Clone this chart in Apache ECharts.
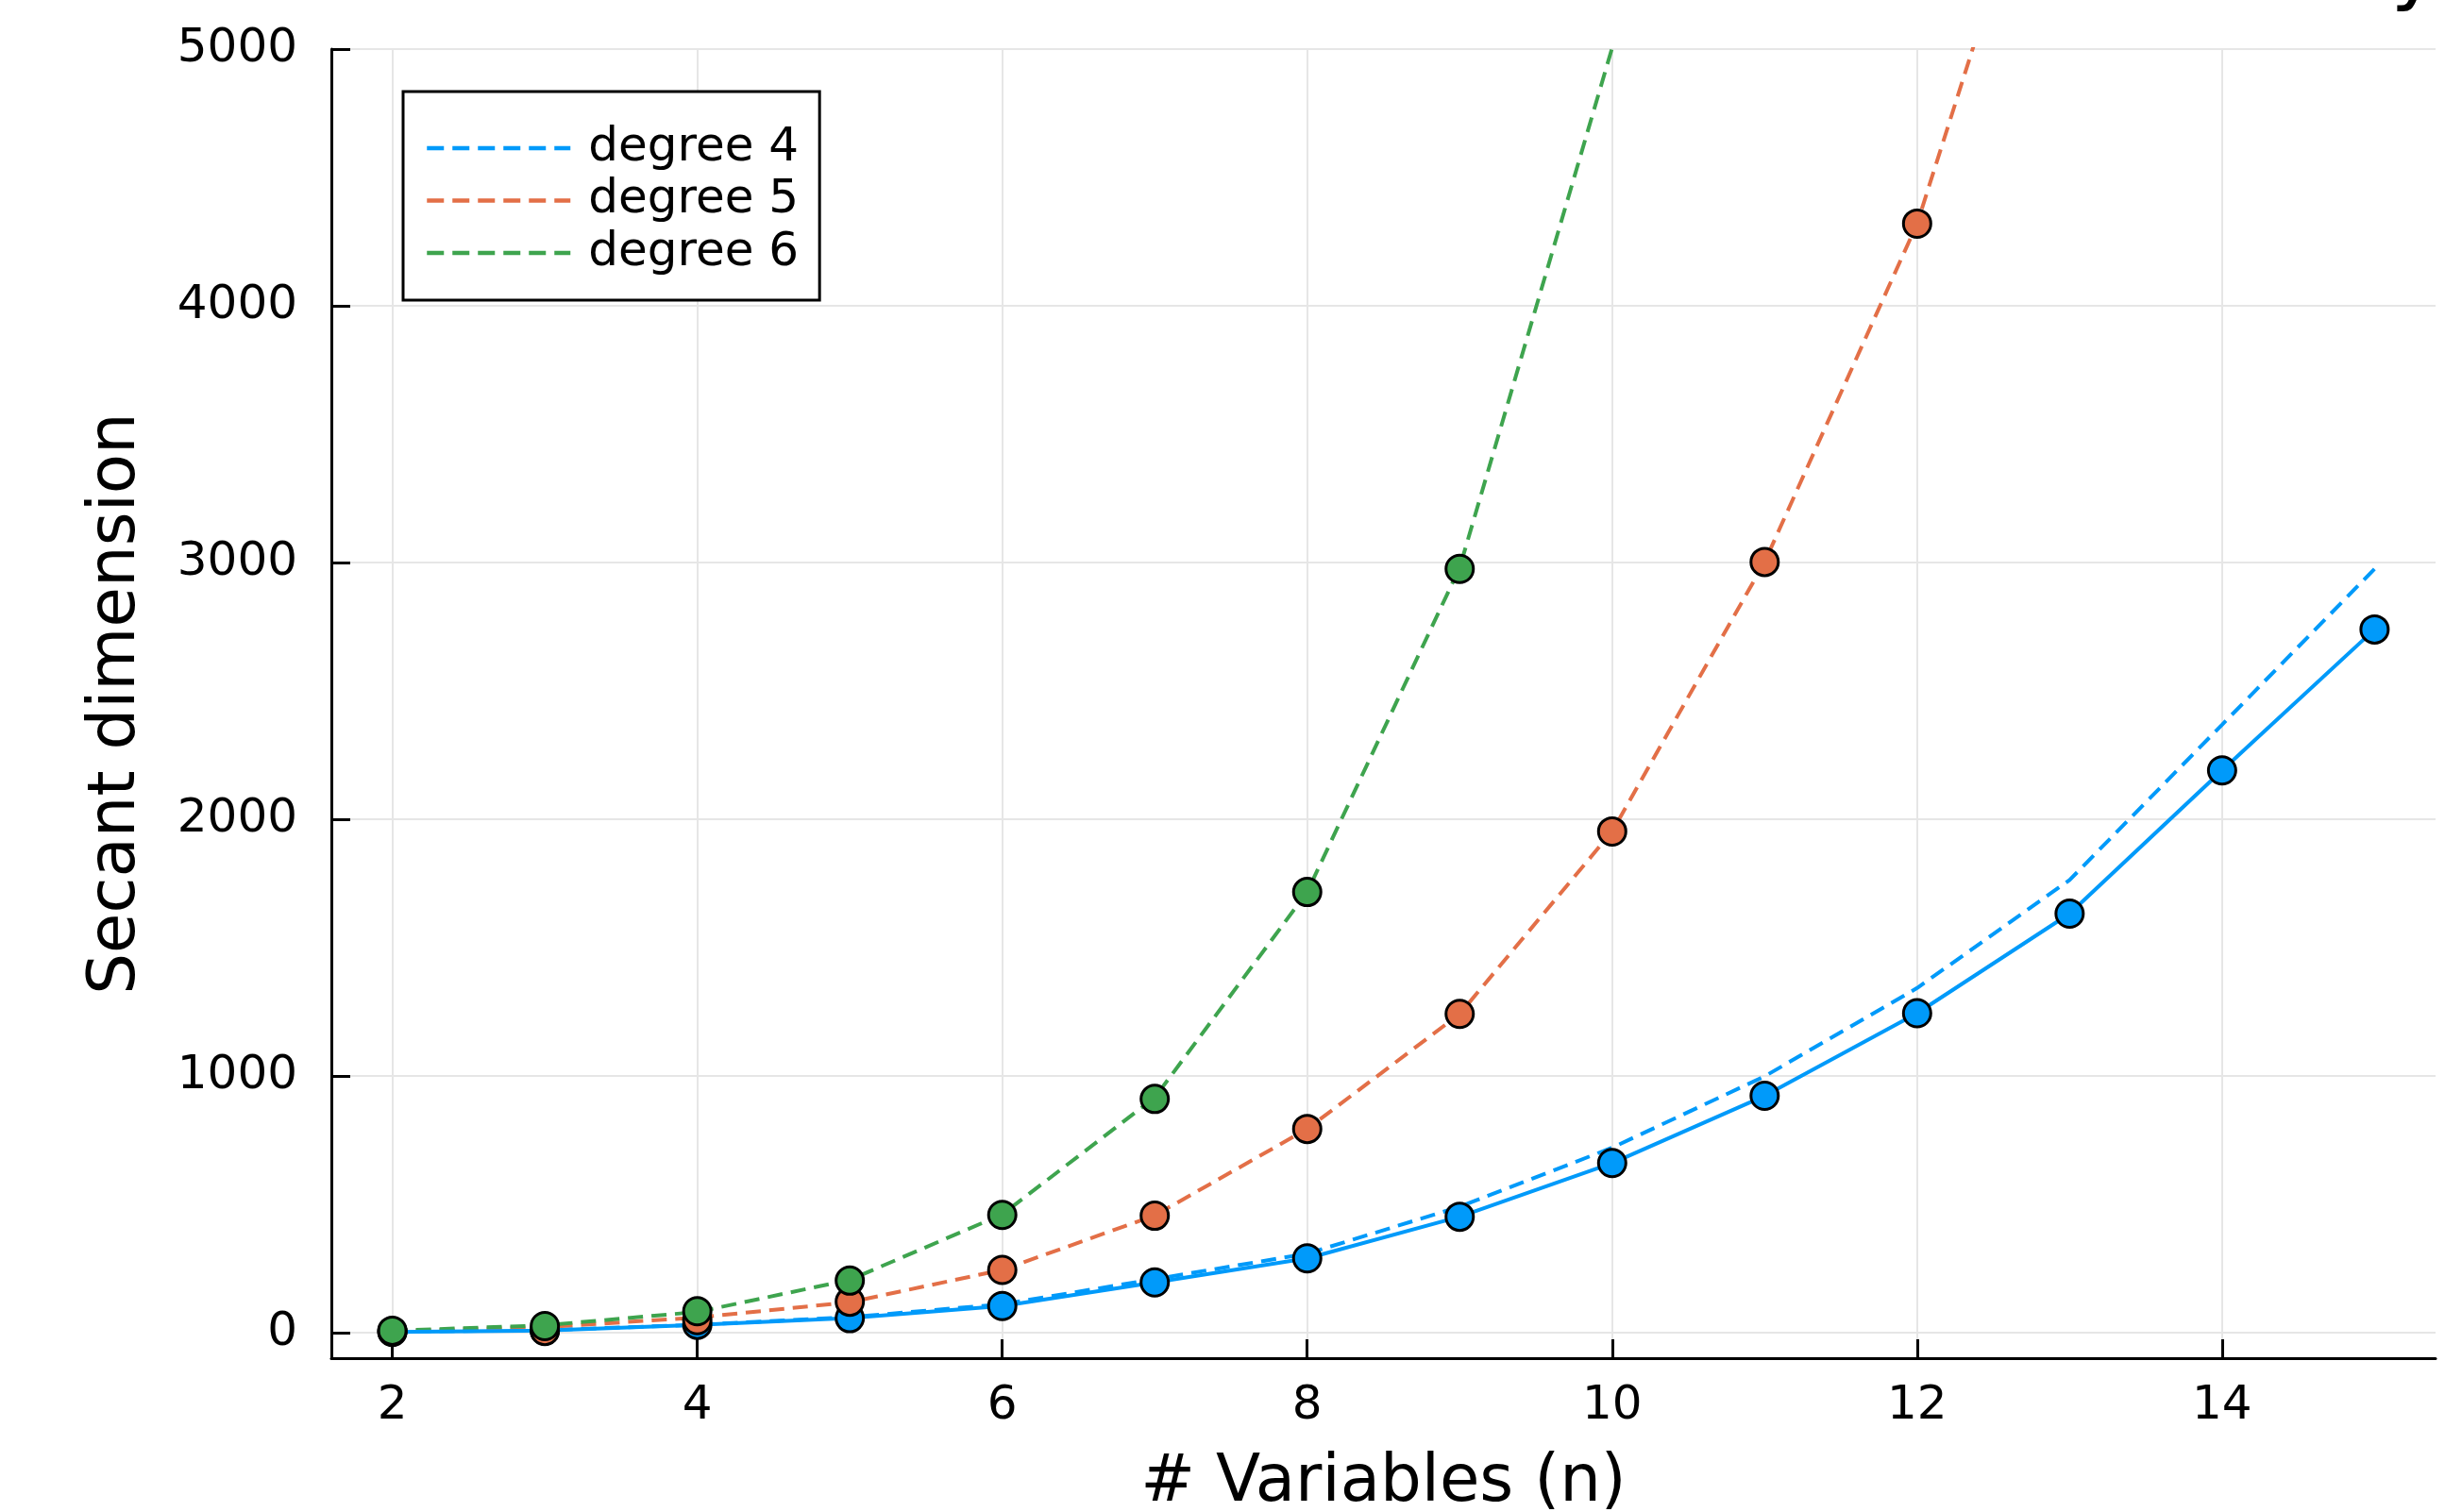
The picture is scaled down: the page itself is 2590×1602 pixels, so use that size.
<!DOCTYPE html>
<html>
<head>
<meta charset="utf-8">
<script src="https://cdn.jsdelivr.net/npm/echarts@6/dist/echarts.min.js"></script>
<style>
html,body{margin:0;padding:0;background:#fff;}
#chart{width:2590px;height:1602px;}
</style>
</head>
<body>
<div id="chart"></div>
<script>
// ---- data ----
const legendNames = ['degree 4', 'degree 5', 'degree 6'];
const xTicks = [2, 4, 6, 8, 10, 12, 14];
const yTicks = [0, 1000, 2000, 3000, 4000, 5000];

// degree 4
const n4 = [2, 3, 4, 5, 6, 7, 8, 9, 10, 11, 12, 13, 14, 15];
const expected4 = [3, 9, 30, 60, 110, 208, 307, 490, 720, 998, 1342, 1763, 2368, 2975];
const measured4 = [2, 8, 30, 56, 103, 195, 289, 451, 660, 922, 1244, 1632, 2190, 2739];

// degree 5
const n5Expected = [2, 3, 4, 5, 6, 7, 8, 9, 10, 11, 12, 13];
const expected5 = [6, 21, 58, 118, 244, 456, 793, 1241, 1952, 3002, 4320, 6188];
const n5 = [2, 3, 4, 5, 6, 7, 8, 9, 10, 11, 12];
const measured5 = [4, 6, 48, 120, 244, 455, 793, 1241, 1952, 3002, 4320];

// degree 6
const n6Expected = [2, 3, 4, 5, 6, 7, 8, 9, 10];
const expected6 = [7, 28, 80, 205, 460, 915, 1716, 2980, 5005];
const n6 = [2, 3, 4, 5, 6, 7, 8, 9];
const measured6 = [7, 25, 83, 202, 458, 910, 1716, 2975];

// ---- styling ----
const FONT = 'DejaVu Sans';
const C4 = '#009AFA', C5 = '#E36F47', C6 = '#3EA44E';
const DASH = [16, 9];
const pairs = (xs, ys) => xs.map((x, i) => [x, ys[i]]);

function dashed(name, xs, ys, color) {
  return {
    name: name, type: 'line', data: pairs(xs, ys),
    symbol: 'none', showSymbol: false, clip: true, z: 2,
    lineStyle: { color: color, width: 4, type: DASH },
    itemStyle: { color: color }
  };
}
function markers(name, xs, ys, color, withLine, z) {
  return {
    name: name, type: 'line', data: pairs(xs, ys),
    symbol: 'circle', symbolSize: 29, showSymbol: true, clip: true, z: z,
    lineStyle: withLine ? { color: color, width: 4, type: 'solid' } : { width: 0, opacity: 0 },
    itemStyle: { color: color, borderColor: '#000', borderWidth: 3 }
  };
}

const chart = echarts.init(document.getElementById('chart'), null, { renderer: 'canvas' });
chart.setOption({
  animation: false,
  backgroundColor: '#fff',
  textStyle: { fontFamily: FONT },
  grid: { left: 351, right: 10, top: 52, bottom: 163, containLabel: false, outerBoundsMode: 'none' },
  legend: {
    data: legendNames,
    orient: 'vertical',
    left: 427, top: 97,
    padding: [35, 22, 25, 23],
    itemWidth: 152, itemHeight: 4, itemGap: 5.5,
    backgroundColor: '#fff',
    borderColor: '#000', borderWidth: 3,
    selectedMode: false,
    itemStyle: { opacity: 0 },
    lineStyle: { width: 4.5, type: [18, 9] },
    textStyle: { fontSize: 50, lineHeight: 50, color: '#000', fontFamily: FONT, padding: [0, 0, 0, 14] }
  },
  xAxis: {
    type: 'value', min: 1.6, max: 15.4,
    name: '# Variables (n)', nameLocation: 'middle', nameGap: 99,
    nameTextStyle: { fontSize: 69, color: '#000', fontFamily: FONT },
    axisLine: { show: true, onZero: false, lineStyle: { color: '#000', width: 3 } },
    axisTick: { show: true, inside: true, length: 20, customValues: xTicks, lineStyle: { color: '#000', width: 3 } },
    axisLabel: { customValues: xTicks, fontSize: 50, color: '#000', margin: 26, fontFamily: FONT, formatter: v => String(v) },
    splitLine: { show: true, lineStyle: { color: '#e6e6e6', width: 2 } }
  },
  yAxis: {
    type: 'value', min: -100, max: 5000,
    name: 'Secant dimension', nameLocation: 'middle', nameGap: 192,
    nameTextStyle: { fontSize: 69, color: '#000', fontFamily: FONT },
    axisLine: { show: true, onZero: false, lineStyle: { color: '#000', width: 3 } },
    axisTick: { show: true, inside: true, length: 20, customValues: yTicks, lineStyle: { color: '#000', width: 3 } },
    axisLabel: { customValues: yTicks, fontSize: 50, color: '#000', margin: 36, fontFamily: FONT, formatter: v => String(v) },
    splitLine: { show: true, lineStyle: { color: '#e6e6e6', width: 2 } }
  },
  graphic: [{
    type: 'text', x: 2584, y: -72, silent: true,
    style: { text: 'y', font: '87px "DejaVu Sans"', textAlign: 'right', textVerticalAlign: 'top', fill: '#000' }
  }],
  series: [
    dashed(legendNames[0], n4, expected4, C4),
    dashed(legendNames[1], n5Expected, expected5, C5),
    dashed(legendNames[2], n6Expected, expected6, C6),
    markers('degree 4 data', n4, measured4, C4, true, 3),
    markers('degree 5 data', n5, measured5, C5, false, 4),
    markers('degree 6 data', n6, measured6, C6, false, 5)
  ]
});
</script>
</body>
</html>
